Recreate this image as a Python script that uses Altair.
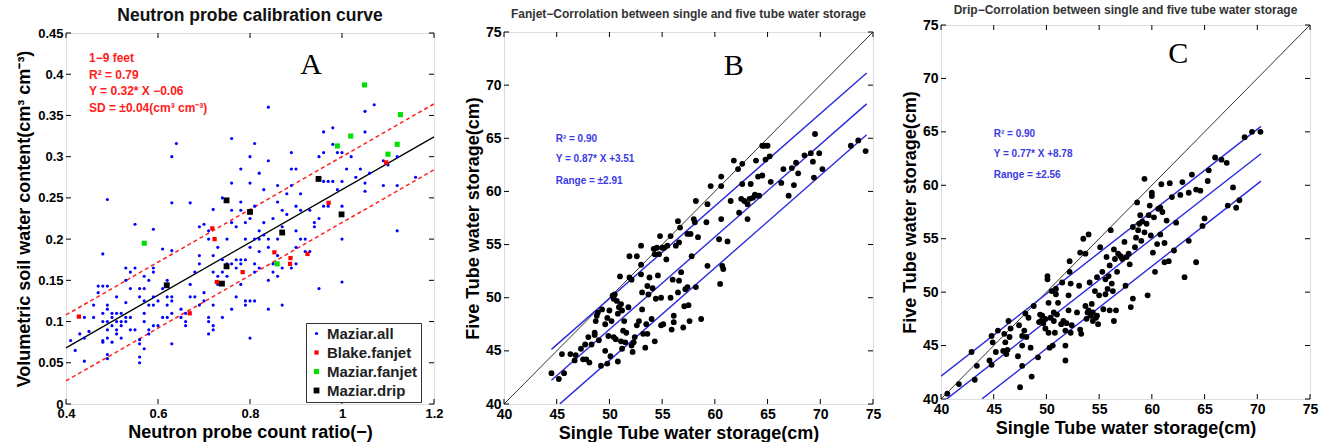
import altair as alt
import pandas as pd

FONT = "Liberation Sans"
SERIF = "Liberation Serif"

# ---------------- Panel A data ----------------
a_all = [
    (0.41,0.077),(0.42,0.065),(0.43,0.085),(0.44,0.105),(0.44,0.08),(0.44,0.052),(0.45,0.088),
    (0.46,0.12),(0.46,0.105),(0.47,0.135),(0.47,0.143),(0.48,0.182),(0.48,0.143),(0.48,0.11),
    (0.48,0.1),(0.48,0.077),(0.48,0.075),(0.49,0.248),(0.49,0.143),(0.49,0.12),(0.49,0.115),
    (0.49,0.1),(0.49,0.09),(0.49,0.08),(0.49,0.06),(0.49,0.055),(0.50,0.11),(0.50,0.105),
    (0.50,0.095),(0.50,0.075),(0.51,0.13),(0.51,0.11),(0.51,0.1),(0.51,0.09),(0.51,0.085),
    (0.52,0.11),(0.52,0.1),(0.52,0.08),(0.52,0.095),(0.53,0.165),(0.53,0.15),(0.53,0.123),
    (0.53,0.105),(0.53,0.1),(0.54,0.16),(0.54,0.14),(0.54,0.105),(0.54,0.09),(0.55,0.165),
    (0.55,0.218),(0.55,0.09),(0.56,0.14),(0.56,0.13),(0.56,0.078),(0.56,0.073),(0.56,0.057),
    (0.56,0.05),(0.57,0.155),(0.57,0.14),(0.57,0.125),(0.57,0.11),(0.57,0.1),(0.57,0.067),
    (0.58,0.15),(0.58,0.12),(0.58,0.09),(0.58,0.085),(0.59,0.212),(0.59,0.165),(0.59,0.16),
    (0.59,0.13),(0.59,0.12),(0.59,0.095),(0.60,0.125),(0.60,0.095),(0.61,0.188),(0.61,0.14),
    (0.61,0.105),(0.62,0.15),(0.62,0.13),(0.62,0.12),(0.62,0.105),(0.63,0.3),(0.63,0.244),
    (0.63,0.186),(0.63,0.13),(0.63,0.125),(0.63,0.11),(0.63,0.073),(0.64,0.316),(0.65,0.115),
    (0.65,0.105),(0.66,0.1),(0.66,0.095),(0.66,0.11),(0.67,0.244),(0.67,0.145),(0.67,0.13),
    (0.68,0.16),(0.68,0.13),(0.69,0.215),(0.69,0.18),(0.69,0.17),(0.69,0.12),(0.70,0.218),
    (0.70,0.135),(0.70,0.125),(0.71,0.21),(0.71,0.2),(0.71,0.105),(0.71,0.085),(0.71,0.1),
    (0.72,0.236),(0.72,0.18),(0.72,0.16),(0.72,0.12),(0.72,0.095),(0.72,0.09),(0.73,0.19),
    (0.73,0.155),(0.73,0.145),(0.74,0.175),(0.74,0.16),(0.74,0.105),(0.74,0.25),(0.75,0.2),
    (0.75,0.17),(0.75,0.155),(0.76,0.322),(0.76,0.268),(0.76,0.235),(0.76,0.22),(0.76,0.115),
    (0.76,0.17),(0.77,0.215),(0.77,0.175),(0.77,0.165),(0.77,0.13),(0.78,0.285),(0.78,0.245),
    (0.78,0.235),(0.78,0.175),(0.78,0.145),(0.78,0.17),(0.79,0.22),(0.79,0.2),(0.79,0.175),
    (0.79,0.125),(0.79,0.12),(0.80,0.3),(0.80,0.268),(0.80,0.225),(0.80,0.19),(0.80,0.125),
    (0.80,0.08),(0.81,0.316),(0.81,0.24),(0.81,0.2),(0.81,0.17),(0.81,0.16),(0.81,0.125),
    (0.82,0.28),(0.82,0.21),(0.82,0.2),(0.82,0.185),(0.82,0.165),(0.83,0.26),(0.83,0.22),
    (0.83,0.205),(0.84,0.36),(0.84,0.295),(0.84,0.2),(0.84,0.19),(0.84,0.15),(0.84,0.115),
    (0.85,0.225),(0.85,0.17),(0.85,0.16),(0.86,0.265),(0.86,0.245),(0.86,0.2),(0.86,0.18),
    (0.86,0.155),(0.87,0.235),(0.87,0.215),(0.87,0.165),(0.87,0.12),(0.88,0.255),(0.88,0.23),
    (0.89,0.305),(0.89,0.285),(0.89,0.265),(0.89,0.165),(0.90,0.285),(0.90,0.24),(0.90,0.21),
    (0.90,0.19),(0.90,0.17),(0.91,0.255),(0.91,0.235),(0.91,0.2),(0.92,0.2),(0.92,0.185),
    (0.93,0.235),(0.93,0.185),(0.94,0.22),(0.94,0.215),(0.95,0.3),(0.95,0.225),(0.95,0.14),
    (0.96,0.33),(0.96,0.305),(0.96,0.27),(0.96,0.24),(0.97,0.24),(0.97,0.27),(0.98,0.335),
    (0.98,0.315),(0.98,0.27),(0.99,0.26),(0.99,0.305),(1.0,0.305),(1.0,0.27),(1.0,0.24),
    (1.0,0.2),(1.0,0.148),(1.01,0.285),(1.02,0.3),(1.03,0.275),(1.04,0.285),(1.05,0.355),
    (1.05,0.33),(1.05,0.268),(1.05,0.258),(1.06,0.28),(1.07,0.363),(1.09,0.265),(1.09,0.295),
    (1.10,0.29),(1.12,0.3),(1.12,0.265),(1.12,0.21),(1.16,0.275),
]
a_blake = [(0.428,0.106),(0.669,0.110),(0.718,0.213),(0.723,0.200),(0.728,0.148),(0.784,0.160),
           (0.853,0.184),(0.888,0.177),(0.887,0.170),(0.925,0.182),(0.971,0.244),(1.096,0.293)]
a_mfan = [(0.570,0.195),(0.859,0.170),(0.990,0.313),(1.019,0.325),(1.049,0.387),(1.100,0.303),
          (1.120,0.315),(1.127,0.351)]
a_drip = [(0.619,0.144),(0.739,0.146),(0.749,0.167),(0.749,0.247),(0.800,0.233),(0.870,0.208),
          (0.949,0.273),(0.999,0.230)]
a_line_x = [0.4, 1.2]
a_fit_y = [0.068, 0.324]
a_up_y = [0.108, 0.364]
a_lo_y = [0.028, 0.284]
a_xticks = [0.4, 0.6, 0.8, 1.0, 1.2]
a_yticks = [0, 0.05, 0.1, 0.15, 0.2, 0.25, 0.3, 0.35, 0.4, 0.45]
series_names = ["Maziar.all", "Blake.fanjet", "Maziar.fanjet", "Maziar.drip"]
series_colors = ["#0000ff", "#ff0000", "#00e000", "#000000"]
a_notes = ["1−9 feet", "R² = 0.79", "Y = 0.32* X −0.06", "SD = ±0.04(cm³ cm⁻³)"]
a_note_x = [0.45, 0.45, 0.45, 0.45]
a_note_y = [0.420, 0.399, 0.380, 0.359]

# ---------------- Panel B data ----------------
b_pts = [
    (44.5,42.9),(45.2,42.35),(45.5,44.7),(45.7,42.9),(46.3,44.7),(46.7,44.1),(46.8,44.6),(47.3,45.2),
    (47.5,44.2),(47.7,45.6),(47.8,44.2),(48.0,46.3),(48.1,43.9),(48.3,45.6),(48.6,46.7),(48.6,46.5),
    (48.7,47.8),(48.8,48.3),(48.9,48.6),(49.0,46.0),(49.2,43.6),(49.3,48.9),(49.6,47.5),(49.6,45.0),
    (49.8,43.8),(49.8,48.1),(49.9,46.4),(50.0,48.8),(50.1,44.5),(50.2,47.8),(50.3,50.2),(50.4,46.3),
    (50.4,49.9),(50.5,50.3),(50.6,46.1),(50.7,49.7),(50.8,44.0),(50.8,48.5),(50.9,49.1),(51.0,52.0),
    (51.1,45.9),(51.1,49.4),(51.2,45.2),(51.2,48.8),(51.3,46.9),(51.4,47.8),(51.5,45.8),(51.6,46.7),
    (51.8,49.1),(51.9,51.9),(51.9,53.9),(52.1,45.5),(52.1,51.7),(52.2,44.9),(52.3,45.8),(52.4,46.3),
    (52.6,53.9),(52.6,47.4),(52.8,47.8),(53.0,52.2),(53.0,53.1),(53.0,54.9),(53.1,50.5),(53.1,48.9),
    (53.2,46.6),(53.4,45.3),(53.5,47.5),(53.6,51.1),(53.6,46.6),(53.7,50.3),(53.8,51.9),(54.0,48.0),
    (54.1,50.9),(54.2,54.6),(54.3,54.1),(54.3,45.9),(54.4,49.9),(54.5,54.7),(54.6,52.1),(54.7,54.1),
    (54.8,55.8),(54.9,47.4),(54.9,50.0),(55.0,54.7),(55.1,47.5),(55.2,54.7),(55.4,53.6),(55.5,54.9),
    (55.8,50.0),(55.8,55.8),(55.9,47.0),(56.0,51.7),(56.1,47.7),(56.1,48.3),(56.3,54.9),(56.5,57.2),
    (56.5,50.5),(56.6,51.6),(56.6,55.2),(56.7,56.6),(56.8,52.4),(57.0,47.2),(57.1,49.2),(57.2,50.8),
    (57.4,56.0),(57.4,51.0),(57.5,49.3),(57.6,47.8),(57.7,56.0),(57.8,53.9),(58.0,57.4),(58.1,57.1),
    (58.2,51.0),(58.2,59.1),(58.4,55.7),(58.7,48.0),(59.2,57.1),(59.3,53.0),(59.3,58.8),(59.6,60.5),
    (60.4,55.5),(60.5,51.3),(60.6,57.4),(60.6,61.4),(60.6,60.5),(60.7,53.0),(60.8,52.7),(61.2,55.3),
    (61.5,59.1),(61.8,62.9),(62.2,62.1),(62.3,58.0),(62.5,59.3),(62.6,60.7),(62.6,62.6),(62.8,59.1),
    (63.1,57.4),(63.1,58.8),(63.3,59.3),(63.4,60.7),(63.6,59.4),(63.8,59.7),(63.9,62.9),(63.9,59.6),
    (64.1,61.4),(64.2,59.6),(64.5,61.5),(64.5,64.3),(64.7,64.3),(64.8,63.0),(65.0,64.3),(65.2,63.3),
    (65.3,60.9),(66.3,60.8),(66.5,62.1),(67.0,59.6),(67.3,62.2),(67.5,60.6),(67.7,62.7),(67.9,61.7),
    (68.5,63.4),(69.1,63.6),(69.3,62.8),(69.4,61.3),(69.5,65.4),(69.9,63.6),(70.2,62.1),(72.9,64.3),
    (73.6,64.8),(74.3,63.8),
]
b_id_x = [40, 75]
b_mid_x = [44.5, 74.4]
b_mid_y = [42.23, 68.24]
b_up_x = [44.5, 74.4]
b_up_y = [45.14, 71.15]
b_lo_x = [45.3, 74.4]
b_lo_y = [40.01, 65.33]
b_notes = ["R² = 0.90", "Y = 0.87* X +3.51", "Range = ±2.91"]
b_note_x = [44.9, 44.9, 44.9]
b_note_y = [64.9, 63.05, 60.98]

# ---------------- Panel C data ----------------
c_pts = [
    (40.6,40.5),(41.7,41.4),(42.9,44.4),(43.2,41.8),(43.4,43.1),(44.6,43.6),(44.8,43.2),(44.8,45.9),
    (44.9,45.3),(45.2,44.4),(45.4,46.4),(45.9,44.5),(46.0,46.1),(46.1,45.3),(46.2,44.2),(46.3,44.6),
    (46.4,47.3),(46.5,45.8),(46.6,46.6),(47.3,44.0),(47.4,46.9),(47.5,41.1),(47.7,45.0),(47.7,45.9),
    (47.7,43.1),(47.9,46.4),(48.0,48.0),(48.1,45.8),(48.3,47.6),(48.5,44.8),(48.6,42.1),(48.8,48.7),
    (49.2,43.9),(49.3,47.2),(49.4,47.9),(49.5,47.3),(49.6,47.8),(49.7,47.1),(49.9,46.6),(49.9,47.5),
    (50.1,51.5),(50.1,51.2),(50.2,49.0),(50.2,46.2),(50.3,44.8),(50.4,47.6),(50.5,50.1),(50.6,45.0),
    (50.7,48.1),(50.7,47.3),(50.8,46.2),(50.9,49.8),(50.9,50.3),(51.0,47.9),(51.1,49.0),(51.4,47.0),
    (51.5,50.9),(51.6,47.3),(51.8,45.0),(51.8,43.6),(51.8,46.4),(51.9,47.1),(52.1,49.7),(52.1,48.3),
    (52.2,51.9),(52.2,52.9),(52.3,50.8),(52.3,46.2),(52.4,46.9),(52.9,48.1),(53.1,50.6),(53.2,46.5),
    (53.2,53.7),(53.3,46.1),(53.5,55.0),(53.7,53.6),(53.7,48.7),(53.8,47.5),(53.9,48.1),(54.0,55.4),
    (54.0,48.3),(54.1,50.9),(54.2,47.8),(54.3,48.9),(54.4,47.3),(54.4,48.1),(54.6,50.1),(54.7,47.6),
    (54.8,47.8),(54.8,51.4),(54.9,47.0),(55.0,49.7),(55.1,54.2),(55.3,51.9),(55.4,48.4),(55.6,49.8),
    (55.6,51.2),(55.7,53.3),(55.8,50.3),(55.9,51.5),(56.0,48.3),(56.0,52.5),(56.1,55.8),(56.2,50.8),
    (56.3,50.1),(56.4,54.0),(56.4,47.3),(56.5,53.1),(56.6,48.3),(56.7,51.9),(56.8,53.6),(57.0,53.4),
    (57.1,53.3),(57.2,53.1),(57.4,54.7),(57.5,50.6),(57.6,53.3),(57.8,53.6),(57.9,52.6),(58.0,48.6),
    (58.2,49.4),(58.2,56.1),(58.4,54.2),(58.5,55.1),(58.6,58.4),(58.7,55.8),(58.8,56.4),(58.9,57.2),
    (59.0,54.8),(59.1,56.6),(59.3,55.6),(59.3,60.6),(59.5,56.4),(59.6,49.7),(59.7,57.2),(59.8,58.1),
    (59.9,55.3),(60.0,59.0),(60.0,59.3),(60.1,53.7),(60.2,57.0),(60.3,51.9),(60.5,54.5),(60.6,57.8),
    (60.8,57.9),(60.8,55.4),(60.9,60.1),(61.0,57.5),(61.2,52.8),(61.2,54.6),(61.4,56.7),(61.6,52.9),
    (61.7,60.2),(61.9,58.9),(62.1,53.9),(62.3,56.5),(62.7,59.1),(62.9,60.3),(63.1,51.4),(63.5,54.8),
    (63.5,59.3),(63.8,61.0),(64.2,52.8),(64.2,59.6),(64.6,59.5),(64.8,56.2),(65.0,56.9),(65.3,60.4),
    (65.4,61.4),(66.0,62.6),(66.6,62.4),(67.1,62.1),(67.2,58.1),(67.7,59.8),(68.0,57.9),(68.3,58.6),
    (68.8,64.5),(69.5,65.0),(70.3,65.0),
]
c_id_x = [40, 75]
c_mid_x = [40.5, 70.35]
c_mid_y = [39.97, 62.95]
c_up_x = [40.0, 70.35]
c_up_y = [42.14, 65.51]
c_lo_x = [43.9, 70.35]
c_lo_y = [40.02, 60.39]
c_notes = ["R² = 0.90", "Y = 0.77* X +8.78", "Range = ±2.56"]
c_note_x = [45.0, 45.0, 45.0]
c_note_y = [64.8, 62.93, 60.96]

bc_ticks = [40, 45, 50, 55, 60, 65, 70, 75]

TICK = 5


def tick_layers(xenc, yenc, xvals, yvals, W, H):
    dx = pd.DataFrame({"x": xvals})
    dy = pd.DataFrame({"y": yvals})
    st = dict(color="black", strokeWidth=1)
    return [
        alt.Chart(dx).mark_rule(**st).encode(x=xenc, y=alt.value(H), y2=alt.value(H - TICK)),
        alt.Chart(dx).mark_rule(**st).encode(x=xenc, y=alt.value(0), y2=alt.value(TICK)),
        alt.Chart(dy).mark_rule(**st).encode(y=yenc, x=alt.value(0), x2=alt.value(TICK)),
        alt.Chart(dy).mark_rule(**st).encode(y=yenc, x=alt.value(W), x2=alt.value(W - TICK)),
    ]


def axis(values, fmt, title, lsize, tsize, tpad):
    return alt.Axis(values=values, format=fmt, title=title, grid=False, ticks=False, domain=False,
                    labelFont=FONT, labelFontSize=lsize, labelFontWeight="bold",
                    labelColor="black", labelPadding=3, labelFlush=False, labelOverlap=False,
                    titleFont=FONT, titleFontSize=tsize, titleFontWeight="bold", titleColor="black",
                    titlePadding=tpad)


# ---------------- Panel A ----------------
W_A, H_A = 368, 371
xa = alt.X("x:Q", scale=alt.Scale(domain=[0.4, 1.2], nice=False, zero=False),
           axis=axis(a_xticks, ".1~f", "Neutron probe count ratio(−)", 13, 18, 3))
ya = alt.Y("y:Q", scale=alt.Scale(domain=[0, 0.45], nice=False, zero=False),
           axis=axis(a_yticks, ".2~f", "Volumetric soil water content(cm³ cm⁻³)", 13, 18, 4))

rows = []
for name, pts in zip(series_names, [a_all, a_blake, a_mfan, a_drip]):
    for px, py in pts:
        rows.append({"x": px, "y": py, "s": name})
dfA = pd.DataFrame(rows)

leg = alt.Legend(title=None, orient="none", legendX=240, legendY=322, strokeColor="#333",
                 fillColor="white", padding=3, labelFont=FONT, labelFontSize=15,
                 labelFontWeight="bold", labelColor="#222", rowPadding=3, symbolStrokeWidth=0,
                 labelOffset=3)
ptsA = alt.Chart(dfA).mark_point(filled=True, opacity=1, strokeWidth=0).encode(
    x=xa, y=ya,
    color=alt.Color("s:N", scale=alt.Scale(domain=series_names, range=series_colors), legend=leg),
    shape=alt.Shape("s:N", scale=alt.Scale(domain=series_names,
                                           range=["circle", "square", "square", "square"]), legend=leg),
    size=alt.Size("s:N", scale=alt.Scale(domain=series_names, range=[10, 34, 34, 34]), legend=leg),
)
dfAl = pd.DataFrame({"x": a_line_x * 3, "y": a_fit_y + a_up_y + a_lo_y,
                     "g": ["fit"] * 2 + ["up"] * 2 + ["lo"] * 2})
fitA = alt.Chart(dfAl).transform_filter("datum.g == 'fit'").mark_line(color="black", strokeWidth=1.3).encode(x=xa, y=ya)
bandA = alt.Chart(dfAl).transform_filter("datum.g != 'fit'").mark_line(
    color="#ff2020", strokeWidth=1.5, strokeDash=[4, 3]).encode(x=xa, y=ya, detail="g:N")
notesA = alt.Chart(pd.DataFrame({"x": a_note_x, "y": a_note_y, "t": a_notes})).mark_text(
    align="left", baseline="middle", font=FONT, fontSize=12, fontWeight="bold", color="#ff2020"
).encode(x=xa, y=ya, text="t:N")
letterA = alt.Chart(pd.DataFrame({"x": [0.933], "y": [0.411], "t": ["A"]})).mark_text(
    font=SERIF, fontSize=30, baseline="middle", align="center", color="black").encode(x=xa, y=ya, text="t:N")

panelA = alt.layer(bandA, fitA, ptsA, notesA, letterA,
                   *tick_layers(xa, ya, a_xticks, a_yticks, W_A, H_A)).properties(
    width=W_A, height=H_A,
    title=alt.TitleParams("Neutron probe calibration curve", font=FONT, fontSize=17.5,
                          fontWeight="bold", anchor="middle", offset=3, color="#111"))


# ---------------- Panels B, C ----------------
def scatter_panel(pts, id_x, mid_x, mid_y, up_x, up_y, lo_x, lo_y, notes, nx, ny,
                  letter, lx, ly, title, W, H, toff):
    xe = alt.X("x:Q", scale=alt.Scale(domain=[40, 75], nice=False, zero=False),
               axis=axis(bc_ticks, "d", "Single Tube water storage(cm)", 14, 18, 3))
    ye = alt.Y("y:Q", scale=alt.Scale(domain=[40, 75], nice=False, zero=False),
               axis=axis(bc_ticks, "d", "Five Tube water storage(cm)", 14, 18, 3))
    dfp = pd.DataFrame(pts, columns=["x", "y"])
    dots = alt.Chart(dfp).mark_circle(size=34, color="black", opacity=1).encode(x=xe, y=ye)
    dfl = pd.DataFrame({"x": mid_x + up_x + lo_x, "y": mid_y + up_y + lo_y,
                        "g": ["m"] * 2 + ["u"] * 2 + ["l"] * 2})
    blue = alt.Chart(dfl).mark_line(color="#2a2ae0", strokeWidth=1.4, clip=True).encode(x=xe, y=ye, detail="g:N")
    ident = alt.Chart(pd.DataFrame({"x": id_x, "y": id_x})).mark_line(
        color="#333", strokeWidth=1).encode(x=xe, y=ye)
    txt = alt.Chart(pd.DataFrame({"x": nx, "y": ny, "t": notes})).mark_text(
        align="left", baseline="middle", font=FONT, fontSize=10, fontWeight="bold", color="#3a3ae6"
    ).encode(x=xe, y=ye, text="t:N")
    let = alt.Chart(pd.DataFrame({"x": [lx], "y": [ly], "t": [letter]})).mark_text(
        font=SERIF, fontSize=30, baseline="middle", align="center", color="black").encode(x=xe, y=ye, text="t:N")
    return alt.layer(ident, blue, dots, txt, let,
                     *tick_layers(xe, ye, bc_ticks, bc_ticks, W, H)).properties(
        width=W, height=H,
        title=alt.TitleParams(title, font=FONT, fontSize=12, fontWeight="bold",
                              anchor="middle", offset=toff, color="#333"))


panelB = scatter_panel(b_pts, b_id_x, b_mid_x, b_mid_y, b_up_x, b_up_y, b_lo_x, b_lo_y,
                       b_notes, b_note_x, b_note_y, "B", 61.8, 71.8,
                       "Fanjet−Corrolation between single and five tube water storage", 369, 372, 4)
panelC = scatter_panel(c_pts, c_id_x, c_mid_x, c_mid_y, c_up_x, c_up_y, c_lo_x, c_lo_y,
                       c_notes, c_note_x, c_note_y, "C", 62.5, 72.3,
                       "Drip−Corrolation between single and five tube water storage", 369, 374, 1)


def spacer(w, h):
    return alt.Chart(pd.DataFrame({"v": [0]})).mark_point(opacity=0, size=1).encode(
        x=alt.value(w / 2), y=alt.value(h / 2)).properties(
        width=w, height=h, view=alt.ViewBackground(stroke="transparent"))


colA = alt.vconcat(spacer(W_A, 4), panelA, spacing=0)
colB = alt.vconcat(spacer(369, 5), panelB, spacing=0)
colC = alt.vconcat(spacer(369, 1), panelC, spacing=0)
right = alt.hconcat(colB, colC, spacing=18)
chart = alt.hconcat(colA, right, spacing=19).properties(
    padding={"left": 15, "top": 0, "right": 5, "bottom": 2}
).configure_view(stroke="black", strokeWidth=1).configure(background="white")

chart.save("out.html", embed_options={"renderer": "svg", "actions": False})
